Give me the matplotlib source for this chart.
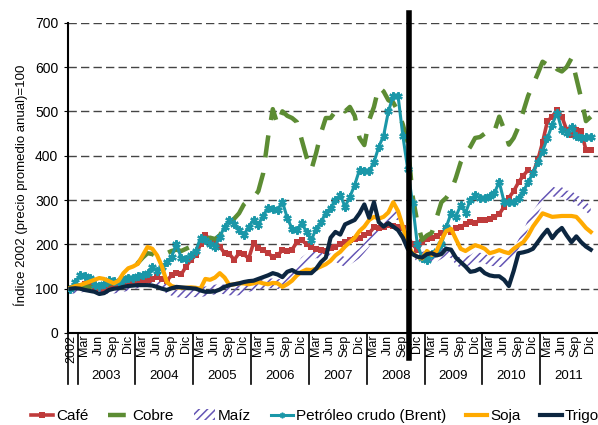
import numpy as np
import matplotlib
matplotlib.use("Agg")
import matplotlib.pyplot as plt
from matplotlib.lines import Line2D
from matplotlib.patches import Patch
import matplotlib.transforms as mtransforms

plt.rcParams['font.family'] = ['Liberation Sans', 'DejaVu Sans']
plt.rcParams['hatch.linewidth'] = 1.1

# monthly index 2002 = 100, Nov 2002 .. Nov 2011
cafe = [100, 103, 106, 110, 108, 104, 102, 100, 102, 104, 106, 108, 112, 114, 116, 118, 120, 122, 126, 122,
        118, 130, 135, 132, 150, 165, 175, 200, 222, 210, 205, 195, 180, 178, 165, 180, 178, 168, 203, 192,
        187, 180, 172, 175, 187, 185, 188, 205, 210, 200, 194, 190, 187, 186, 192, 195, 200, 205, 210, 212,
        215, 220, 225, 238, 237, 240, 244, 242, 240, 237, 218, 200, 188, 205, 212, 215, 218, 225, 232, 228,
        237, 240, 245, 250, 248, 255, 255, 258, 262, 268, 285, 305, 320, 340, 355, 368, 360, 390, 430, 478,
        488, 503, 488, 458, 447, 458, 455, 413, 413]
cobre = [100, 102, 106, 106, 104, 102, 104, 106, 110, 114, 115, 120, 128, 140, 158, 170, 180, 178, 172, 174,
         180, 185, 188, 185, 190, 195, 200, 205, 210, 215, 212, 220, 240, 250, 258, 270, 290, 300, 305, 320,
         360, 440, 505, 470, 500, 490, 485, 476, 436, 397, 368, 406, 451, 485, 485, 500, 510, 500, 510, 490,
         440, 424, 480, 510, 555, 545, 525, 520, 500, 470, 430, 310, 250, 210, 220, 226, 260, 295, 305, 320,
         350, 385, 405, 420, 440, 442, 450, 460, 455, 488, 460, 425, 440, 465, 500, 535, 560, 585, 612, 605,
         612, 595, 590, 600, 620, 575, 530, 478, 488]
maiz = [100, 100, 102, 104, 103, 100, 98, 100, 98, 100, 102, 104, 106, 110, 112, 114, 118, 120, 115, 108,
        100, 95, 92, 90, 90, 92, 92, 92, 94, 96, 98, 100, 98, 96, 95, 96, 100, 104, 106, 108,
        110, 112, 112, 110, 112, 118, 130, 145, 160, 168, 175, 180, 178, 170, 168, 172, 165, 160, 165, 172,
        180, 192, 205, 220, 235, 245, 255, 270, 265, 240, 215, 185, 170, 172, 175, 170, 172, 178, 185, 180,
        165, 158, 160, 165, 172, 170, 168, 162, 162, 160, 160, 165, 180, 200, 220, 245, 265, 280, 300, 315,
        320, 315, 318, 310, 310, 300, 295, 285, 275]
petroleo = [100, 115, 130, 128, 124, 108, 106, 110, 120, 118, 115, 120, 124, 124, 128, 131, 135, 150, 140, 150,
            160, 172, 200, 170, 168, 175, 185, 214, 210, 200, 195, 217, 240, 255, 245, 232, 221, 240, 255, 244,
            265, 282, 280, 278, 296, 260, 235, 232, 248, 228, 210, 235, 250, 271, 282, 300, 311, 285, 307, 334,
            368, 365, 365, 385, 420, 445, 500, 535, 535, 445, 370, 293, 200, 170, 165, 178, 185, 200, 239, 270,
            262, 289, 271, 300, 311, 305, 305, 310, 316, 341, 296, 296, 296, 305, 320, 340, 361, 385, 410, 440,
            470, 497, 458, 451, 465, 445, 440, 442, 442]
soja = [102, 106, 108, 112, 116, 120, 124, 122, 117, 112, 118, 135, 146, 150, 156, 175, 194, 190, 175, 150,
        115, 106, 103, 102, 102, 103, 102, 100, 122, 120, 125, 135, 125, 108, 110, 112, 112, 110, 112, 115,
        112, 110, 113, 112, 104, 110, 118, 130, 138, 143, 142, 145, 150, 155, 163, 175, 183, 195, 205, 215,
        230, 240, 255, 262, 258, 262, 272, 295, 275, 240, 200, 180, 172, 168, 185, 176, 185, 210, 230, 235,
        212, 190, 185, 192, 198, 195, 190, 180, 183, 187, 183, 180, 190, 198, 205, 220, 240, 255, 270, 266,
        262, 263, 264, 264, 264, 262, 250, 237, 228]
trigo = [100, 101, 100, 97, 95, 93, 88, 90, 97, 100, 101, 104, 106, 107, 108, 108, 108, 107, 104, 100,
         97, 101, 104, 103, 102, 101, 100, 96, 93, 93, 94, 98, 104, 108, 110, 112, 115, 117, 118, 122,
         126, 130, 135, 132, 126, 138, 142, 136, 135, 135, 135, 145, 160, 170, 215, 228, 222, 245, 250, 255,
         270, 290, 260, 295, 250, 240, 248, 240, 232, 215, 190, 178, 172, 170, 178, 180, 175, 178, 190, 188,
         170, 160, 150, 138, 140, 145, 135, 130, 128, 128, 120, 106, 140, 180, 182, 185, 190, 205, 220, 233,
         214, 228, 237, 220, 205, 218, 205, 195, 188]

years = ['2003', '2004', '2005', '2006', '2007', '2008', '2009', '2010', '2011']
month_labels = ['Mar', 'Jun', 'Sep', 'Dic']
crisis_pos = 70.2  # Sep 2008

c_cafe = '#BF3B3B'
c_cobre = '#5C8C33'
c_maiz = '#6555B5'
c_petro = '#1A97A8'
c_soja = '#FFAA00'
c_trigo = '#0C2640'

x = np.arange(len(cafe))

fig = plt.figure(figsize=(5.98, 4.25), dpi=100)
ax = fig.add_axes([68 / 598, 1 - 333 / 425, 530 / 598, 310.3 / 425])

for v in range(100, 800, 100):
    ax.axhline(v, color='#444444', lw=1.0, linestyle=(0, (6, 3)), zorder=0)

m = np.array(maiz)
ax.fill_between(x, m - 11, m + 11, facecolor='none', edgecolor=c_maiz, hatch='////', linewidth=0, zorder=1)
ax.plot(x, cafe, color=c_cafe, lw=2.6, marker='s', ms=4.5, mew=0, zorder=2)
ax.plot(x, cobre, color=c_cobre, lw=3.2, linestyle=(0, (5, 3.5)), zorder=2.5)
ax.plot(x, petroleo, color=c_petro, lw=2.2, marker=(6, 2, 0), ms=6, mew=1.6, zorder=3)
ax.plot(x, soja, color=c_soja, lw=3.0, zorder=4)
ax.plot(x, trigo, color=c_trigo, lw=3.0, zorder=5)

ax.plot([crisis_pos, crisis_pos], [-56, 722], color='black', lw=4, clip_on=False, zorder=6)

ax.set_xlim(-0.5, 109.5)
ax.set_ylim(0, 700)
ax.set_yticks(range(0, 800, 100))
ax.tick_params(axis='y', labelsize=10, length=3, pad=4)
ax.set_xticks([])
for s in ['top', 'right']:
    ax.spines[s].set_visible(False)
ax.spines['left'].set_linewidth(1.5)
ax.spines['bottom'].set_linewidth(1.5)

trans = mtransforms.blended_transform_factory(ax.transData, ax.transAxes)
# month labels
ax.text(0.25, -0.006, '2002', rotation=90, ha='center', va='top', fontsize=9, transform=trans)
for k in range(len(years)):
    for j, lab in enumerate(month_labels):
        ax.text(3 + 12 * k + 3 * j - 0.1, -0.006, lab, rotation=90, ha='center', va='top',
                fontsize=9, transform=trans)
    ax.text(7.5 + 12 * k, -0.14, years[k], ha='center', va='center', fontsize=9.5, transform=trans)
for b in [-0.5] + [1.5 + 12 * k for k in range(9)]:
    ax.plot([b, b], [0, -0.165], color='black', lw=1.2, transform=trans, clip_on=False)

fig.text(0.034, 0.565, 'Índice 2002 (precio promedio anual)=100', rotation=90,
         ha='center', va='center', fontsize=9.5)

handles = [
    Line2D([], [], color=c_cafe, lw=2.6, marker='s', ms=4, mew=0),
    Line2D([], [], color=c_cobre, lw=3.2, linestyle=(0, (4, 2))),
    Patch(facecolor='none', edgecolor=c_maiz, hatch='////', linewidth=0),
    Line2D([], [], color=c_petro, lw=2.2, marker=(6, 2, 0), ms=4, mew=1.2),
    Line2D([], [], color=c_soja, lw=3.0),
    Line2D([], [], color=c_trigo, lw=3.0),
]
labels = ['Café', 'Cobre', 'Maíz', 'Petróleo crudo (Brent)', 'Soja', 'Trigo']
fig.legend(handles, labels, loc='center', bbox_to_anchor=(0.527, 0.021), ncol=6, frameon=False,
           fontsize=11, handlelength=1.4, handletextpad=0.2, columnspacing=1.3, borderaxespad=0)

fig.savefig('out.png', dpi=100)
